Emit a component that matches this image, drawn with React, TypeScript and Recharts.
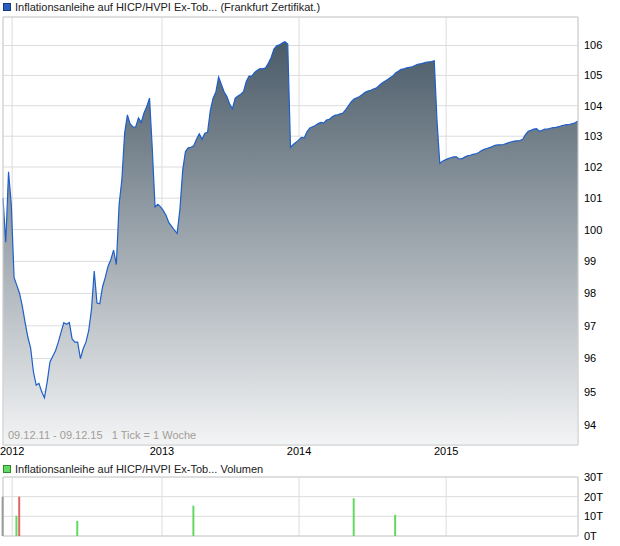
import {
  Area,
  AreaChart,
  Bar,
  BarChart,
  CartesianGrid,
  Cell,
  ReferenceArea,
  XAxis,
  YAxis,
} from "recharts";

// Wochenschlusskurse 09.12.11 - 09.12.15 (Index = Woche seit Start)
const prices = [
  101.0, 99.6, 101.85, 100.8, 98.5, 98.25, 98.0, 97.6, 97.1, 96.65,
  96.32, 95.6, 95.2, 95.25, 95.0, 94.82, 95.3, 95.9, 96.07, 96.24,
  96.5, 96.8, 97.1, 97.05, 97.1, 96.6, 96.5, 96.5, 96.0, 96.3,
  96.5, 96.85, 97.5, 98.7, 97.7, 97.68, 98.2, 98.5, 98.85, 99.05,
  99.35, 98.9, 100.8, 101.6, 103.1, 103.7, 103.4, 103.3, 103.3, 103.6,
  103.45, 103.76, 103.97, 104.25, 102.6, 100.72, 100.8, 100.72, 100.6, 100.45,
  100.22, 100.1, 99.98, 99.88, 100.65, 101.9, 102.5, 102.62, 102.64, 102.69,
  102.9, 103.08, 102.9, 103.1, 103.13, 103.85, 104.25, 104.45, 104.95, 104.7,
  104.45, 104.3, 104.05, 103.9, 104.25, 104.32, 104.38, 104.46, 104.8, 104.98,
  104.98, 105.1, 105.17, 105.23, 105.22, 105.25, 105.41, 105.6, 105.88, 105.99,
  106.02, 106.08, 106.13, 106.05, 102.64, 102.73, 102.8, 102.88, 102.96, 102.95,
  103.15, 103.27, 103.31, 103.35, 103.41, 103.45, 103.43, 103.53, 103.55, 103.63,
  103.68, 103.7, 103.73, 103.76, 103.87, 104.0, 104.13, 104.22, 104.26, 104.3,
  104.37, 104.44, 104.48, 104.51, 104.55, 104.58, 104.66, 104.74, 104.8, 104.86,
  104.92, 104.98, 105.08, 105.14, 105.2, 105.22, 105.25, 105.27, 105.29, 105.33,
  105.37, 105.39, 105.41, 105.44, 105.45, 105.46, 105.49, 103.5, 102.12, 102.19,
  102.23, 102.27, 102.3, 102.33, 102.33, 102.26, 102.27, 102.32, 102.36, 102.38,
  102.41, 102.43, 102.46, 102.53, 102.57, 102.6, 102.63, 102.66, 102.7, 102.72,
  102.72, 102.73, 102.76, 102.79, 102.82, 102.84, 102.85, 102.86, 102.9, 103.05,
  103.16, 103.19, 103.23, 103.25, 103.16, 103.19, 103.23, 103.23, 103.26, 103.28,
  103.29, 103.31, 103.34, 103.36, 103.38, 103.39, 103.41, 103.44, 103.5,
];

const yearTicks = [3.3, 57.5, 107.1, 160.3];
const yearLabels = ["2012", "2013", "2014", "2015"];
const priceTicks = [94, 95, 96, 97, 98, 99, 100, 101, 102, 103, 104, 105, 106];
const priceDomain = [93.41, 106.96];

const volWeeks = [0, 5, 6, 27, 69, 127, 142];
const volValues = [20000, 10300, 20000, 7700, 15400, 19200, 10800];
const volColors = ["#9a9a9a", "#62d962", "#e06666", "#62d962", "#62d962", "#62d962", "#62d962"];
const volTicks = [0, 10000, 20000, 30000];

const lastWeek = prices.length - 1;
const priceData = prices.map((price, week) => ({ week, price }));
const volData = volWeeks.map((week, i) => ({ week, vol: volValues[i], color: volColors[i] }));

const font = "'Liberation Sans', Arial, sans-serif";
const tickStyle = { fill: "#000", fontSize: 11, fontFamily: font };
const yearLabel = (v: number) => yearLabels[yearTicks.indexOf(v)] ?? "";

function LegendRow({ top, color, border, text }: { top: number; color: string; border: string; text: string }) {
  return (
    <div style={{ position: "absolute", left: 3, top, display: "flex", alignItems: "center", fontFamily: font, fontSize: 11, color: "#222", whiteSpace: "nowrap" }}>
      <span style={{ display: "inline-block", width: 6, height: 6, background: color, border: `1px solid ${border}`, marginRight: 4 }} />
      {text}
    </div>
  );
}

export default function App() {
  return (
    <div style={{ position: "absolute", left: 0, top: 0, width: 620, height: 546, background: "#fff" }}>
      <LegendRow top={1} color="#2a5fc0" border="#153a80" text="Inflationsanleihe auf HICP/HVPI Ex-Tob... (Frankfurt Zertifikat.)" />

      <div style={{ position: "absolute", left: 0, top: 0 }}>
        <AreaChart width={620} height={460} data={priceData} margin={{ top: 17, right: 0, left: 3, bottom: 0 }}>
          <defs>
            <linearGradient id="priceFill" x1="0" y1="0" x2="0" y2="1">
              <stop offset="0%" stopColor="#4a5b68" />
              <stop offset="100%" stopColor="#f3f4f5" />
            </linearGradient>
          </defs>
          <CartesianGrid stroke="#dcdcdc" />
          <XAxis
            dataKey="week"
            type="number"
            domain={[0, lastWeek]}
            ticks={yearTicks}
            interval={0}
            tickFormatter={yearLabel}
            axisLine={false}
            tickLine={false}
            tickSize={0}
            tickMargin={2}
            height={15}
            tick={tickStyle}
          />
          <YAxis
            orientation="right"
            scale="log"
            domain={priceDomain}
            allowDataOverflow
            ticks={priceTicks}
            interval={0}
            axisLine={false}
            tickLine={false}
            tickSize={0}
            tickMargin={6}
            width={42}
            tick={tickStyle}
          />
          <Area
            type="linear"
            dataKey="price"
            baseValue="dataMin"
            stroke="#1f5fc8"
            strokeWidth={1.2}
            fill="url(#priceFill)"
            fillOpacity={1}
            dot={false}
            activeDot={false}
            isAnimationActive={false}
          />
          <ReferenceArea x1={0} x2={lastWeek} y1={priceDomain[0]} y2={priceDomain[1]} fill="none" stroke="#d0d0d0" ifOverflow="visible" />
        </AreaChart>
      </div>
      <div style={{ position: "absolute", left: 8, top: 429, fontFamily: font, fontSize: 11, color: "#a39d97", whiteSpace: "pre" }}>
        {"09.12.11 - 09.12.15   1 Tick = 1 Woche"}
      </div>

      <LegendRow top={463} color="#62d962" border="#2f8a2f" text="Inflationsanleihe auf HICP/HVPI Ex-Tob... Volumen" />

      <div style={{ position: "absolute", left: 0, top: 470 }}>
        <BarChart width={620} height={76} data={volData} margin={{ top: 7, right: 0, left: 3, bottom: 10 }}>
          <CartesianGrid stroke="#dcdcdc" />
          <XAxis dataKey="week" type="number" domain={[0, lastWeek]} ticks={yearTicks} interval={0} hide />
          <YAxis
            orientation="right"
            domain={[0, 30000]}
            ticks={volTicks}
            interval={0}
            tickFormatter={(v: number) => `${v / 1000}T`}
            axisLine={false}
            tickLine={false}
            tickSize={0}
            tickMargin={6}
            width={42}
            tick={tickStyle}
          />
          <Bar dataKey="vol" barSize={2} isAnimationActive={false}>
            {volData.map((d) => (
              <Cell key={d.week} fill={d.color} />
            ))}
          </Bar>
          <ReferenceArea x1={0} x2={lastWeek} y1={0} y2={30000} fill="none" stroke="#d0d0d0" ifOverflow="visible" />
        </BarChart>
      </div>
    </div>
  );
}
